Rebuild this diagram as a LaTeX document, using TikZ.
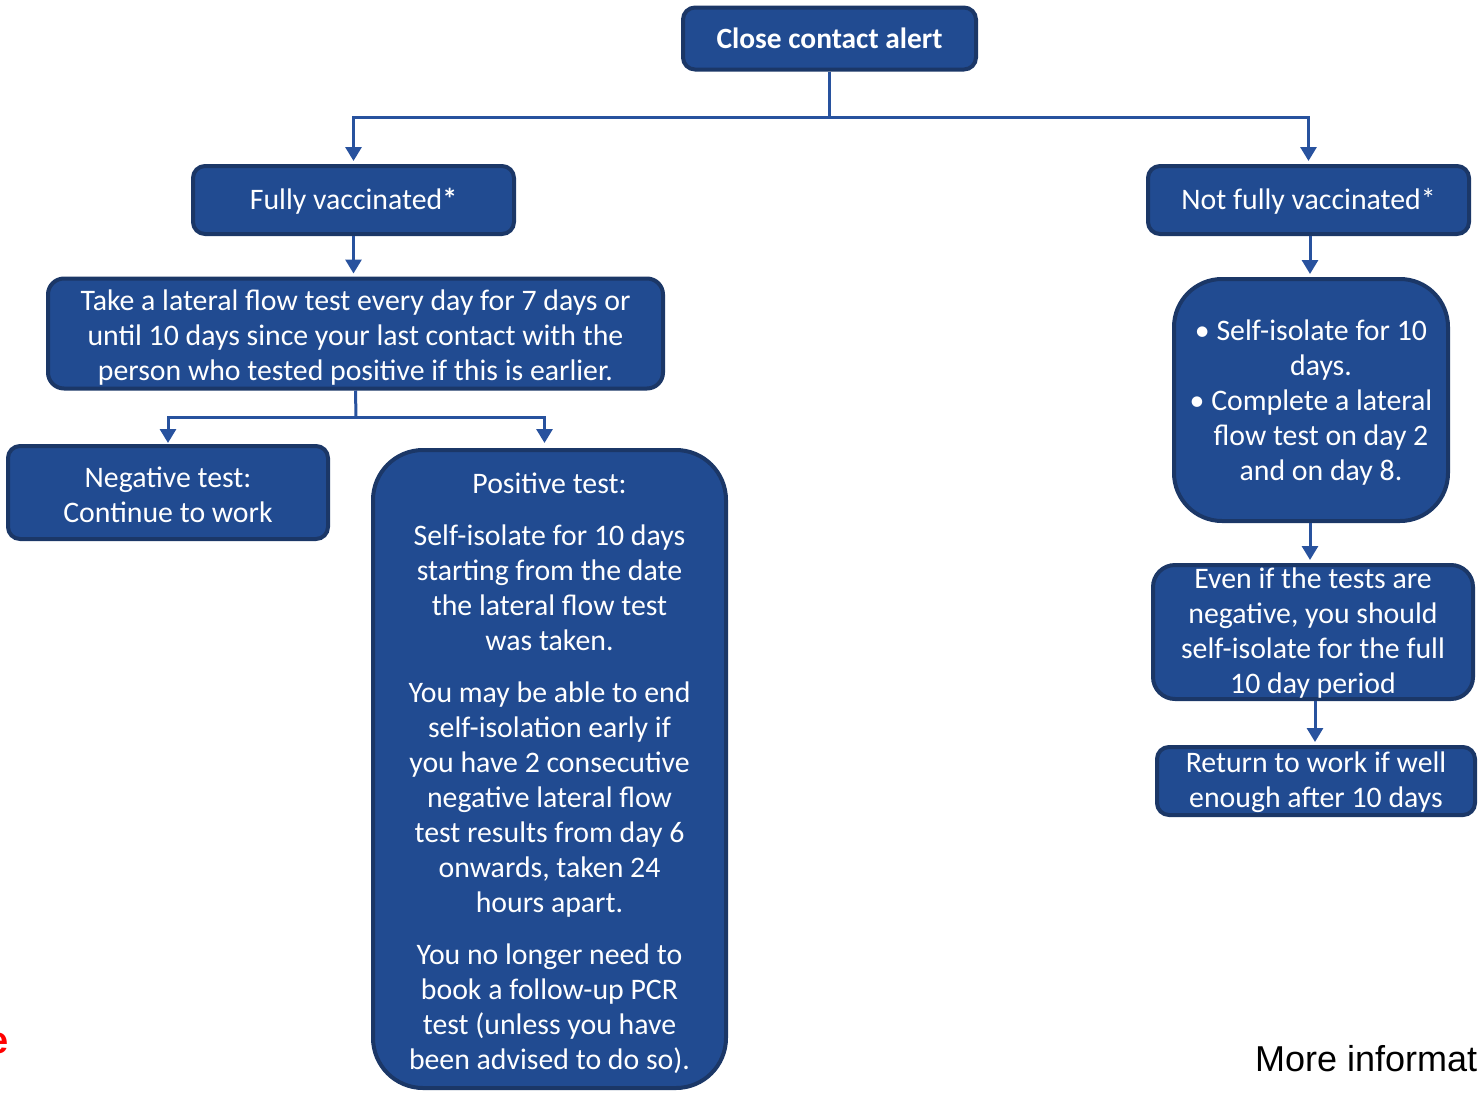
\documentclass[tikz,border=0pt]{standalone}
\usepackage{fontspec}
\setmainfont{Carlito}
\newfontfamily\arialf{Liberation Sans}
\usetikzlibrary{arrows.meta}
\definecolor{boxfill}{RGB}{33,75,145}
\definecolor{boxline}{RGB}{27,55,103}
\definecolor{conn}{RGB}{40,82,158}
\newcommand\fst{\rule{0pt}{32pt}}
\newcommand\stk[2]{\smash{\raisebox{#1}{\begin{tabular}{@{}c@{}}#2\end{tabular}}}}
\begin{document}
\begin{tikzpicture}[x=1pt,y=-1pt,
  basebox/.style={draw=boxline, line width=4pt, fill=boxfill, text=white,
    rounded corners=12pt, inner sep=0pt,
    font=\fontsize{29.8}{35}\selectfont},
  box/.style={basebox, align=center,
    execute at end node={\rule[-8pt]{0pt}{8pt}}},
  onebox/.style={box, execute at begin node={\rule{0pt}{27pt}}},
  bigbox/.style={box, rounded corners=50pt},
  link/.style={draw=conn, line width=3pt},
  arr/.style={link, -{Triangle[width=16pt,length=14pt]}, shorten >=3pt}]
\useasboundingbox (0,0) rectangle (1478,1093);

\node[basebox, align=center, minimum width=293pt, minimum height=62pt, font=\fontsize{29.4}{35}\selectfont\bfseries]
  (alert) at (829.5,38.5) {Close contact alert};
\node[onebox, minimum width=321pt, minimum height=68pt] (fully) at (353.5,200) {Fully vaccinated\textbf{*}};
\node[onebox, minimum width=321pt, minimum height=68pt] (notfully) at (1308.5,200) {Not fully vaccinated*};
\node[box, minimum width=615pt, minimum height=109pt, rounded corners=16pt] (lateral) at (355.5,333.5)
  {\fst Take a lateral flow test every day for 7 days or\\ until 10 days since your last contact with the\\ person who tested positive if this is earlier.};
\node[box, minimum width=320pt, minimum height=93pt] (neg) at (168,492.5) {\fst Negative test:\\ Continue to work};
\node[bigbox, minimum width=353pt, minimum height=638pt] (pos) at (549.5,769)
  {\fst Positive test:\\[17pt]
   Self-isolate for 10 days\\ starting from the date\\ the lateral flow test\\ was taken.\\[17pt]
   You may be able to end\\ self-isolation early if\\ you have 2 consecutive\\ negative lateral flow\\ test results from day 6\\ onwards, taken 24\\ hours apart.\\[17pt]
   You no longer need to\\ book a follow-up PCR\\ test (unless you have\\ been advised to do so).};
\node[box, rounded corners=48pt, minimum width=274pt, minimum height=242pt] (iso) at (1311,400)
  {\rule{0pt}{28pt}• Self-isolate for 10\\ \hspace*{20pt}days.\\ • Complete a lateral\\ \hspace*{20pt}flow test on day 2\\ \hspace*{20pt}and on day 8.};
\node[basebox, rounded corners=22pt, minimum width=320pt, minimum height=134pt] (even) at (1313,632)
  {\stk{-8.5pt}{Even if the tests are\\ negative, you should\\ self-isolate for the full\\ 10 day period}};
\node[basebox, minimum width=318pt, minimum height=68pt] (ret) at (1316,781)
  {\stk{-8pt}{Return to work if well\\ enough after 10 days}};

\coordinate (j1) at (829.5,117);
\draw[link] (alert.south) -- (j1);
\draw[arr] (j1) -| (fully.north);
\draw[arr] (j1) -| (notfully.north);
\draw[arr] (fully.south) -- (fully.south |- lateral.north);
\coordinate (j2) at (356,417);
\draw[link] (lateral.south) -- (j2);
\draw[arr, shorten >=1pt] (j2) -| (neg.north);
\draw[arr, shorten >=5pt] (j2) -| ([xshift=-5pt]pos.north);
\draw[arr] ([xshift=1.5pt]notfully.south) -- ([xshift=1.5pt]notfully.south |- iso.north);
\draw[arr] ([xshift=-1pt]iso.south) -- ([xshift=-1pt]iso.south |- even.north);
\draw[arr] ([xshift=2pt]even.south) -- ([xshift=2pt]even.south |- ret.north);

\node[anchor=base east, inner sep=0pt, text=red, font=\arialf\bfseries\fontsize{38}{40}\selectfont] (red) at (9,1053) {e};
\node[anchor=base west, inner sep=0pt, font=\arialf\fontsize{36}{40}\selectfont] (more) at (1255,1071) {More informat};
\end{tikzpicture}
\end{document}
